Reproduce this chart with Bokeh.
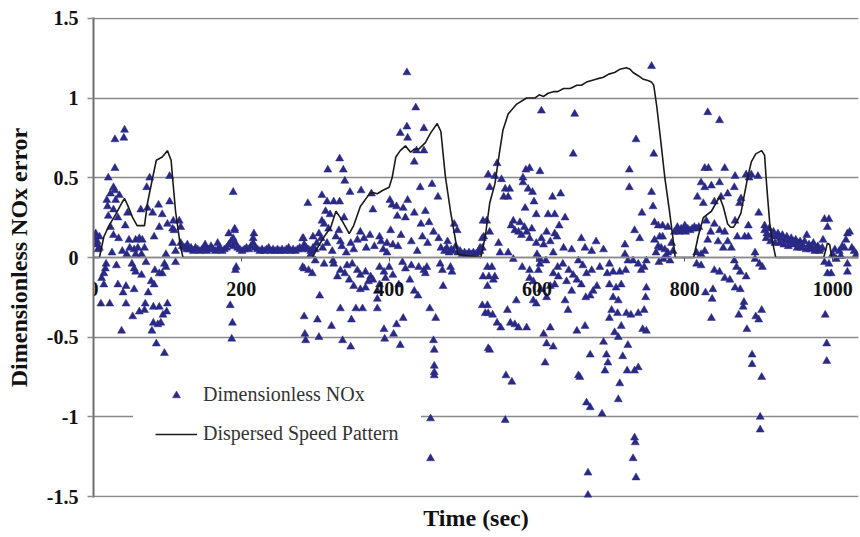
from bokeh.plotting import figure
from bokeh.models import (Range1d, FixedTicker, CustomJSTickFormatter, Legend,
                          LegendItem, Title, ColumnDataSource)
from bokeh.embed import file_html
from bokeh.resources import INLINE

# ---------------- data ----------------
x_ticks = [0, 200, 400, 600, 800, 1000]
y_ticks = [-1.5, -1.0, -0.5, 0.0, 0.5, 1.0, 1.5]
x_title = "Time (sec)"
y_title = "Dimensionless NOx error"
series_names = ["Dimensionless NOx", "Dispersed Speed Pattern"]

# Dispersed speed pattern (line)
speed_t = [0, 8, 14, 21, 30, 38, 42, 46, 53, 59, 69, 73, 80, 85, 93, 100, 105, 107, 111, 117, 121,
           296, 303, 312, 321, 328, 334, 346, 352, 361, 375, 384, 391, 400, 404, 409, 415, 422, 429,
           434, 440, 449, 456, 465, 470, 476, 483, 489, 493,
           524, 530, 536, 543, 549, 554, 561, 572, 586, 597, 603, 609, 615, 622, 628, 636, 645, 654,
           660, 667, 674, 681, 690, 697, 705, 712, 721, 726, 730, 737, 743, 750, 755, 758, 762, 767,
           773, 779, 784, 787,
           812, 818, 825, 836, 847, 852, 858, 862, 866, 871, 876, 880, 885, 890, 896, 904, 908, 910,
           912, 915, 919, 923, 988, 993, 996, 999, 1035]
speed_v = [0, 0, 0.13, 0.20, 0.27, 0.34, 0.37, 0.33, 0.25, 0.20, 0.20, 0.34, 0.50, 0.61, 0.63, 0.67, 0.61, 0.50, 0.29, 0.09, 0,
           0, 0.06, 0.13, 0.19, 0.29, 0.25, 0.15, 0.20, 0.32, 0.41, 0.40, 0.42, 0.44, 0.50, 0.63, 0.67, 0.70, 0.66,
           0.68, 0.68, 0.72, 0.78, 0.84, 0.79, 0.51, 0.29, 0.13, 0.02,
           0, 0.13, 0.34, 0.46, 0.65, 0.80, 0.90, 0.96, 1.00, 1.00, 1.02, 1.01, 1.03, 1.04, 1.04, 1.06, 1.06, 1.08,
           1.08, 1.10, 1.11, 1.12, 1.13, 1.15, 1.16, 1.18, 1.19, 1.18, 1.16, 1.14, 1.12, 1.11, 1.10, 1.08, 0.95, 0.75,
           0.50, 0.30, 0.12, 0,
           0, 0.13, 0.25, 0.29, 0.38, 0.32, 0.21, 0.19, 0.19, 0.23, 0.28, 0.38, 0.50, 0.60, 0.65, 0.67, 0.64, 0.50,
           0.38, 0.21, 0.09, 0, 0, 0.09, 0.08, 0, 0]

# Dimensionless NOx error (scatter), first accel cycle
nox_cycle1 = [(42, 0.80), (41, 0.75), (29, 0.74), (29, 0.56), (20, 0.50), (27, 0.44), (29, 0.42), (23, 0.40),
              (35, 0.39), (18, 0.36), (30, 0.36), (19, 0.32), (27, 0.30), (20, 0.26), (33, 0.25), (46, 0.28),
              (64, 0.30), (73, 0.31), (80, 0.28), (88, 0.33), (93, 0.27), (103, 0.35), (72, 0.44), (76, 0.50),
              (103, 0.51), (100, 0.21), (116, 0.23), (118, 0.19), (43, 0.20), (23, 0.19), (27, 0.14), (34, 0.12),
              (82, 0.13), (89, 0.19), (107, 0.18), (109, 0.17), (8, 0.13), (5, 0.10), (8, 0.06), (48, 0.11),
              (57, 0.11), (62, 0.12), (66, 0.11), (49, 0.06), (55, 0.05), (60, 0.06), (69, 0.06), (39, 0.04),
              (45, 0.02), (25, 0.03), (57, 0.02), (65, 0.02), (98, 0.02), (107, 0.09), (111, 0.04), (118, 0.09),
              (108, 0.23), (2, 0.12), (4, 0.08), (3, 0.15), (6, 0.05),
              (17, -0.04), (16, -0.07), (31, -0.05), (14, -0.10), (11, -0.13), (14, -0.17), (52, -0.04),
              (55, -0.07), (57, -0.09), (65, -0.11), (71, -0.03), (96, -0.04), (98, -0.06), (111, -0.03),
              (83, -0.08), (89, -0.10), (93, -0.10), (33, -0.17), (44, -0.18), (55, -0.20), (40, -0.22),
              (78, -0.15), (82, -0.17), (74, -0.22), (10, -0.29), (22, -0.29), (44, -0.29), (70, -0.29),
              (81, -0.31), (89, -0.31), (100, -0.29), (69, -0.33), (62, -0.34), (99, -0.34), (53, -0.37),
              (94, -0.36), (81, -0.41), (87, -0.42), (91, -0.41), (79, -0.46), (38, -0.46), (85, -0.54),
              (96, -0.60)]

# quiet period after first cycle
nox_quiet1_t = [120, 123, 126, 129, 132, 135, 138, 141, 144, 147, 150, 153, 156, 159, 162, 165, 168, 171,
                174, 177, 180, 183, 186, 189, 192, 195, 198, 201, 204, 207, 210, 213, 216, 219, 222, 225,
                228, 231, 234, 237, 240, 243, 246, 249, 252, 255, 258, 261, 264, 267, 270, 273, 276, 279,
                282, 285, 288, 291, 294, 297]
nox_quiet1_v = [0.07, 0.06, 0.05, 0.05, 0.06, 0.04, 0.06, 0.05, 0.04, 0.05, 0.06, 0.04, 0.05, 0.07, 0.05,
                0.04, 0.05, 0.06, 0.04, 0.05, 0.06, 0.08, 0.10, 0.07, 0.09, 0.06, 0.05, 0.04, 0.05, 0.06,
                0.05, 0.07, 0.09, 0.06, 0.05, 0.04, 0.05, 0.04, 0.05, 0.06, 0.04, 0.05, 0.04, 0.05, 0.04,
                0.05, 0.04, 0.05, 0.06, 0.04, 0.05, 0.04, 0.05, 0.06, 0.05, 0.07, 0.06, 0.05, 0.04, 0.06]
nox_quiet1_extra = [(183, 0.15), (191, 0.18), (189, 0.12), (189, 0.41), (191, 0.17), (217, 0.15),
                    (216, 0.12), (283, 0.12), (185, -0.30), (188, -0.41), (187, -0.51), (187, -0.70),
                    (192, -0.08), (193, -0.06), (283, -0.06), (127, 0.08), (151, 0.08), (168, 0.09)]

# second accel cycle
nox_cycle2 = [(424, 1.16), (436, 0.94), (424, 0.82), (415, 0.78), (425, 0.75), (447, 0.81), (434, 0.60),
              (437, 0.67), (447, 0.67), (333, 0.62), (317, 0.55), (338, 0.55), (340, 0.48), (347, 0.41),
              (362, 0.42), (376, 0.40), (290, 0.34), (309, 0.39), (316, 0.35), (325, 0.35), (333, 0.35),
              (314, 0.29), (320, 0.27), (309, 0.23), (312, 0.21), (339, 0.25), (332, 0.17), (361, 0.16),
              (374, 0.14), (401, 0.36), (404, 0.33), (410, 0.32), (419, 0.31), (425, 0.36), (411, 0.26),
              (422, 0.25), (434, 0.28), (449, 0.29), (443, 0.21), (454, 0.22), (442, 0.44), (458, 0.46),
              (466, 0.38), (378, 0.30), (402, 0.17), (416, 0.14), (387, 0.13), (389, 0.10), (397, 0.09),
              (397, 0.03), (357, 0.11), (369, 0.06), (348, 0.09), (334, 0.10), (342, 0.03), (316, 0.09),
              (323, 0.04), (302, 0.09), (297, 0.13), (284, 0.12), (285, 0.08), (294, 0.02), (467, 0.12),
              (470, 0.06), (479, 0.10), (488, 0.21), (492, 0.17), (528, 0.13), (532, 0.23), (534, 0.52),
              (536, 0.44), (305, 0.15), (308, 0.12), (318, 0.18), (328, 0.13), (336, 0.07), (352, 0.05),
              (366, 0.12), (380, 0.07), (392, 0.05), (405, 0.08), (412, 0.07), (430, 0.10), (438, 0.04),
              (445, 0.13), (452, 0.09), (460, 0.16), (300, 0.05), (310, 0.06),
              (285, -0.07), (291, -0.08), (300, -0.02), (324, -0.02), (325, -0.04), (334, -0.08),
              (343, -0.05), (350, -0.04), (357, -0.08), (361, -0.11), (368, -0.09), (375, -0.12),
              (378, -0.14), (346, -0.14), (352, -0.18), (361, -0.20), (368, -0.19), (387, -0.06),
              (393, -0.09), (400, -0.06), (387, -0.17), (384, -0.21), (384, -0.26), (422, -0.07),
              (413, -0.17), (428, -0.14), (434, -0.21), (439, -0.24), (440, -0.06), (447, -0.08),
              (451, -0.06), (449, -0.10), (469, -0.04), (472, -0.08), (483, -0.06), (485, -0.09),
              (473, -0.18), (306, -0.24), (334, -0.32), (355, -0.32), (364, -0.32), (349, -0.39),
              (285, -0.37), (303, -0.39), (322, -0.43), (384, -0.32), (419, -0.38), (410, -0.42),
              (393, -0.45), (406, -0.48), (394, -0.51), (286, -0.48), (287, -0.52), (305, -0.50),
              (337, -0.52), (348, -0.56), (415, -0.55), (455, -0.32), (463, -0.38), (460, -0.52),
              (461, -0.58), (461, -0.68), (461, -0.72), (461, -0.74), (456, -1.01), (456, -1.26),
              (533, -0.18), (533, -0.30), (534, -0.35), (534, -0.57), (330, -0.12), (340, -0.10),
              (372, -0.15), (395, -0.13), (405, -0.11), (418, -0.03), (430, -0.05), (296, -0.10),
              (312, -0.04)]

# quiet period after second cycle
nox_quiet2_t = [475, 478, 481, 484, 487, 490, 493, 496, 499, 502, 505, 508, 511, 514, 517, 520, 523, 526]
nox_quiet2_v = [0.04, 0.06, 0.03, 0.05, 0.04, 0.07, 0.03, 0.04, 0.02, 0.03, 0.02, 0.03, 0.02, 0.03, 0.02,
                0.03, 0.04, 0.06]

# third (high speed) cycle
nox_cycle3 = [(606, 0.92), (651, 0.90), (649, 0.65), (546, 0.59), (543, 0.51), (590, 0.56), (585, 0.55),
              (604, 0.54), (581, 0.50), (581, 0.47), (552, 0.49), (557, 0.43), (563, 0.43), (555, 0.38),
              (561, 0.38), (588, 0.43), (594, 0.41), (596, 0.35), (621, 0.38), (632, 0.40), (599, 0.27),
              (615, 0.27), (624, 0.27), (638, 0.25), (584, 0.31), (568, 0.23), (577, 0.22), (570, 0.17),
              (575, 0.16), (579, 0.14), (586, 0.16), (590, 0.12), (599, 0.09), (613, 0.16), (624, 0.15),
              (627, 0.13), (548, 0.09), (561, 0.03), (550, 0.03), (536, 0.16), (527, 0.23), (526, 0.12),
              (523, 0.06), (568, -0.01), (609, 0.08), (622, 0.03), (636, 0.06), (647, 0.05), (665, 0.06),
              (674, 0.04), (690, 0.05), (604, -0.01), (565, 0.20), (583, 0.19), (593, 0.18), (606, 0.12),
              (618, 0.10), (630, 0.20), (600, 0.02), (680, 0.10), (660, 0.12),
              (533, -0.06), (539, -0.06), (527, -0.12), (535, -0.12), (543, -0.12), (541, -0.14),
              (526, -0.30), (530, -0.35), (540, -0.36), (546, -0.41), (551, -0.44), (560, -0.33),
              (564, -0.41), (570, -0.42), (575, -0.44), (586, -0.44), (572, -0.27), (590, -0.08),
              (602, -0.08), (590, -0.13), (604, -0.04), (595, -0.27), (599, -0.29), (613, -0.25),
              (622, -0.10), (624, -0.17), (629, -0.12), (618, -0.44), (609, -0.48), (613, -0.54),
              (622, -0.56), (611, -0.66), (635, -0.04), (643, -0.08), (649, -0.11), (654, -0.14),
              (647, -0.21), (638, -0.27), (642, -0.33), (656, -0.02), (662, -0.05), (666, -0.25),
              (672, -0.24), (676, -0.21), (681, -0.18), (667, -0.10), (674, -0.08), (654, -0.46),
              (665, -0.43), (672, -0.61), (690, -0.53), (692, -0.71), (536, -0.58), (558, -0.74),
              (566, -0.78), (557, -1.02), (656, -0.74), (658, -0.75), (667, -0.91), (672, -0.94),
              (688, -0.98), (669, -1.35), (669, -1.49), (612, -0.02), (580, -0.06), (595, -0.15),
              (605, -0.20), (618, -0.18), (628, -0.06), (640, -0.15), (660, -0.17), (685, -0.06),
              (695, -0.10)]

# fourth cycle
nox_cycle4 = [(755, 1.20), (734, 0.74), (758, 0.65), (725, 0.55), (725, 0.44), (755, 0.41), (757, 0.32),
              (742, 0.28), (759, 0.22), (732, 0.17), (739, 0.12), (719, 0.08), (719, 0.02),
              (764, 0.20), (770, 0.20), (777, 0.19), (786, 0.16), (766, 0.13), (759, 0.11), (764, 0.07),
              (768, 0.06), (773, 0.05), (777, 0.03), (782, 0.09), (770, 0.13), (775, 0.01), (784, 0.04),
              (761, 0.03), (771, -0.01), (780, -0.02), (765, -0.03),
              (789, 0.17), (792, 0.16), (795, 0.18), (798, 0.17), (801, 0.16), (804, 0.18), (807, 0.17),
              (810, 0.18), (813, 0.19), (816, 0.18), (819, 0.19), (790, 0.19), (800, 0.20),
              (831, 0.91), (847, 0.86), (827, 0.56), (832, 0.56), (854, 0.56), (822, 0.47), (827, 0.44),
              (836, 0.45), (847, 0.47), (817, 0.38), (825, 0.34), (840, 0.35), (849, 0.38), (858, 0.40),
              (829, 0.23), (840, 0.21), (847, 0.17), (854, 0.16), (835, 0.16), (831, 0.11), (845, 0.10),
              (852, 0.06), (858, 0.10), (863, 0.06), (816, 0.03), (822, 0.02), (827, 0.04),
              (698, -0.04), (703, -0.09), (712, -0.09), (720, -0.08), (723, -0.02), (730, -0.02),
              (737, -0.04), (741, -0.08), (748, -0.02), (745, -0.06), (698, -0.17), (707, -0.19),
              (714, -0.17), (703, -0.25), (710, -0.27), (701, -0.33), (709, -0.35), (698, -0.38),
              (714, -0.43), (721, -0.35), (727, -0.36), (737, -0.35), (745, -0.33), (747, -0.25),
              (748, -0.19), (705, -0.47), (710, -0.50), (743, -0.45), (748, -0.46), (694, -0.61),
              (696, -0.66), (716, -0.62), (723, -0.55), (722, -0.71), (732, -0.71), (737, -0.69),
              (712, -0.79), (710, -0.89), (732, -1.13), (733, -1.16), (730, -1.26), (734, -1.38),
              (816, -0.04), (822, -0.05), (840, -0.08), (847, -0.09), (854, -0.13), (861, -0.14),
              (838, -0.20), (836, -0.38), (828, -0.22), (837, -0.26)]

# fifth cycle and final quiet period
nox_cycle5 = [(868, 0.51), (883, 0.52), (890, 0.52), (899, 0.51), (887, 0.50), (867, 0.44), (874, 0.34),
              (876, 0.37), (868, 0.23), (886, 0.20), (871, 0.13), (881, 0.13), (886, 0.13), (900, 0.28),
              (895, 0.03), (895, -0.01), (901, -0.04), (905, -0.06), (867, -0.02), (870, -0.06),
              (875, -0.09), (883, -0.12), (868, -0.19), (875, -0.20), (880, -0.28), (879, -0.31),
              (873, -0.36), (896, -0.37), (900, -0.39), (904, -0.33), (884, -0.45), (891, -0.61),
              (891, -0.67), (904, -0.75), (902, -1.00), (902, -1.08), (908, 0.20),
              (989, 0.24), (995, 0.24), (993, 0.19), (987, 0.11), (989, -0.03), (995, -0.04), (993, -0.10),
              (998, -0.10), (990, -0.36), (992, -0.54), (992, -0.65), (1000, 0.02), (1009, 0.04),
              (1016, 0.06), (1020, 0.15), (1023, 0.16), (1018, 0.11), (1026, 0.06), (1020, -0.04),
              (1020, -0.09), (1005, -0.01), (1011, 0.01), (1029, 0.04), (1003, 0.05), (1013, 0.07),
              (1032, 0.02)]
nox_quiet3_t = [908, 911, 914, 917, 920, 923, 926, 929, 932, 935, 938, 941, 944, 947, 950, 953, 956, 959,
                962, 965, 968, 971, 974, 977, 980, 983, 986,
                910, 916, 922, 928, 934, 940, 946, 952, 958, 964, 970, 976, 982]
nox_quiet3_v = [0.17, 0.15, 0.18, 0.14, 0.16, 0.13, 0.15, 0.12, 0.14, 0.11, 0.13, 0.10, 0.12, 0.10, 0.11,
                0.09, 0.10, 0.08, 0.10, 0.14, 0.08, 0.07, 0.09, 0.06, 0.07, 0.05, 0.06,
                0.12, 0.10, 0.09, 0.09, 0.08, 0.07, 0.08, 0.06, 0.06, 0.05, 0.05, 0.04, 0.04]

# ---------------- assemble ----------------
pts = nox_cycle1 + nox_quiet1_extra + nox_cycle2 + nox_cycle3 + nox_cycle4 + nox_cycle5
nox_t = [p[0] for p in pts] + nox_quiet1_t + nox_quiet2_t + nox_quiet3_t
nox_v = [p[1] for p in pts] + nox_quiet1_v + nox_quiet2_v + nox_quiet3_v

FONT = "Liberation Serif"
GRID = "#8a8a8a"
NAVY = "#2a2a86"

p = figure(width=860, height=537, output_backend="svg", toolbar_location=None,
           x_range=Range1d(0, 1035), y_range=Range1d(-1.505, 1.505),
           min_border_left=93, min_border_right=2, min_border_top=17, min_border_bottom=40)
p.background_fill_color = "white"
p.border_fill_color = "white"
p.outline_line_color = None

# grid
p.xgrid.visible = False
p.ygrid.ticker = FixedTicker(ticks=y_ticks)
p.ygrid.grid_line_color = GRID
p.ygrid.grid_line_width = 1.6

# y axis
p.yaxis.ticker = FixedTicker(ticks=y_ticks)
p.yaxis.formatter = CustomJSTickFormatter(code="return String(tick);")
p.yaxis.axis_label = y_title
p.yaxis.axis_label_text_font = FONT
p.yaxis.axis_label_text_font_style = "bold"
p.yaxis.axis_label_text_font_size = "24px"
p.yaxis.axis_label_text_color = "#111111"
p.yaxis.axis_label_standoff = 12
p.yaxis.major_label_text_font = FONT
p.yaxis.major_label_text_font_style = "bold"
p.yaxis.major_label_text_font_size = "20px"
p.yaxis.major_label_text_color = "#111111"
p.yaxis.major_label_standoff = 9
p.yaxis.axis_line_color = "#6e6e6e"
p.yaxis.axis_line_width = 2
p.yaxis.major_tick_line_color = GRID
p.yaxis.major_tick_line_width = 1.6
p.yaxis.major_tick_out = 6
p.yaxis.major_tick_in = 0
p.yaxis.minor_tick_line_color = None

# x axis drawn at y = 0
p.xaxis.fixed_location = 0
p.xaxis.ticker = FixedTicker(ticks=x_ticks)
p.xaxis.major_label_text_font = FONT
p.xaxis.major_label_text_font_style = "bold"
p.xaxis.major_label_text_font_size = "20px"
p.xaxis.major_label_text_color = "#111111"
p.xaxis.major_label_standoff = 20
p.xaxis.axis_line_color = GRID
p.xaxis.axis_line_width = 1.6
p.xaxis.major_tick_line_color = "#555555"
p.xaxis.major_tick_out = 4
p.xaxis.major_tick_in = 0
p.xaxis.minor_tick_line_color = None

src = ColumnDataSource(dict(t=nox_t, v=nox_v))
r_sc = p.scatter("t", "v", source=src, marker="triangle", size=8,
                 fill_color=NAVY, line_color=NAVY, line_width=0.5)
r_ln = p.line(speed_t, speed_v, line_color="#1a1a1a", line_width=1.6)

legend = Legend(items=[LegendItem(label=series_names[0], renderers=[r_sc]),
                       LegendItem(label=series_names[1], renderers=[r_ln])],
                location=(40, 30), margin=0, padding=0, spacing=16,
                glyph_width=42, glyph_height=20, label_height=20, label_standoff=6,
                label_text_font=FONT, label_text_font_size="20px", label_text_color="#333333",
                background_fill_color="white", background_fill_alpha=1.0,
                border_line_color="white", border_line_width=22)
p.add_layout(legend)

p.add_layout(Title(text=x_title, align="center", text_font=FONT, text_font_style="bold",
                   text_font_size="24px", text_color="#111111", standoff=10), "below")

open("out.html", "w").write(file_html(p, INLINE))
